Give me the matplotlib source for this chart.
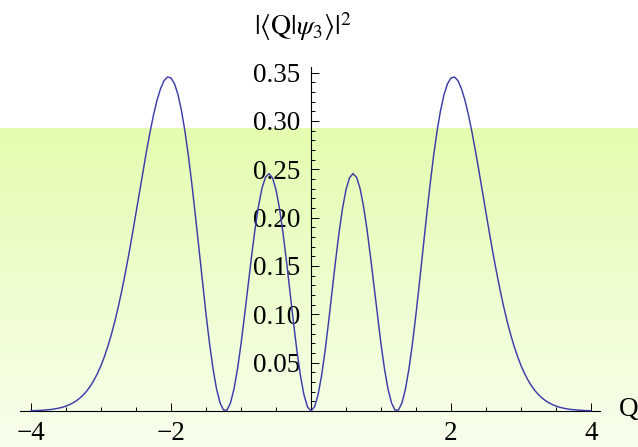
import numpy as np
import matplotlib
matplotlib.use("Agg")
import matplotlib.pyplot as plt

plt.rcParams['font.family'] = ['Liberation Serif', 'DejaVu Serif']
plt.rcParams['mathtext.fontset'] = 'stix'

# |<Q|psi_3>|^2, Q = -4.0 ... 4.0 in steps of 0.05
q = np.linspace(-4.0, 4.0, 161)
prob = [0.0003, 0.0004, 0.0005, 0.0007, 0.0010, 0.0013, 0.0017, 0.0023, 0.0030, 0.0039, 0.0051,
        0.0066, 0.0084, 0.0107, 0.0135, 0.0169, 0.0210, 0.0260, 0.0319, 0.0389,
        0.0470, 0.0565, 0.0673, 0.0796, 0.0933, 0.1087, 0.1255, 0.1437, 0.1631, 0.1836,
        0.2048, 0.2263, 0.2478, 0.2686, 0.2882, 0.3060, 0.3212, 0.3332, 0.3415, 0.3454,
        0.3444, 0.3384, 0.3271, 0.3105, 0.2890, 0.2631, 0.2334, 0.2011, 0.1673, 0.1332,
        0.1004, 0.0701, 0.0439, 0.0230, 0.0085, 0.0010, 0.0009, 0.0084, 0.0228, 0.0435,
        0.0692, 0.0983, 0.1291, 0.1595, 0.1878, 0.2119, 0.2304, 0.2418, 0.2455, 0.2411,
        0.2289, 0.2094, 0.1842, 0.1547, 0.1230, 0.0913, 0.0616, 0.0361, 0.0165, 0.0042,
        0.0,
        0.0042, 0.0165, 0.0361, 0.0616, 0.0913, 0.1230, 0.1547, 0.1842, 0.2094,
        0.2289, 0.2411, 0.2455, 0.2418, 0.2304, 0.2119, 0.1878, 0.1595, 0.1291, 0.0983,
        0.0692, 0.0435, 0.0228, 0.0084, 0.0009, 0.0010, 0.0085, 0.0230, 0.0439, 0.0701,
        0.1004, 0.1332, 0.1673, 0.2011, 0.2334, 0.2631, 0.2890, 0.3105, 0.3271, 0.3384,
        0.3444, 0.3454, 0.3415, 0.3332, 0.3212, 0.3060, 0.2882, 0.2686, 0.2478, 0.2263,
        0.2048, 0.1836, 0.1631, 0.1437, 0.1255, 0.1087, 0.0933, 0.0796, 0.0673, 0.0565,
        0.0470, 0.0389, 0.0319, 0.0260, 0.0210, 0.0169, 0.0135, 0.0107, 0.0084, 0.0066,
        0.0051, 0.0039, 0.0030, 0.0023, 0.0017, 0.0013, 0.0010, 0.0007, 0.0005, 0.0004, 0.0003]

xticks = [-4, -2, 2, 4]
yticks = [0.05, 0.10, 0.15, 0.20, 0.25, 0.30, 0.35]

W, H = 638, 447
fig = plt.figure(figsize=(W / 100, H / 100), dpi=100)

# background: white top, green-yellow gradient band from y=128px down
bg = fig.add_axes([0, 0, 1, 1])
bg.set_xlim(0, W)
bg.set_ylim(H, 0)
top = np.array([228, 252, 176]) / 255
bot = np.array([248, 255, 237]) / 255
t = np.linspace(0, 1, 200)[:, None]
grad = (top[None, :] * (1 - t) + bot[None, :] * t)[:, None, :]
bg.imshow(grad, extent=[0, W, H, 128], aspect='auto', interpolation='bilinear')
bg.axis('off')

ax = fig.add_axes([0, 0, 1, 1])
ax.patch.set_alpha(0)
x0, xs = 311, 70.0
y0, ys = 411, 967.0
ax.set_xlim(-x0 / xs, (W - x0) / xs)
ax.set_ylim((y0 - H) / ys, y0 / ys)

ax.plot(q, prob, color='#3c3ca8', lw=1.05, zorder=3)

for s in ['top', 'right']:
    ax.spines[s].set_visible(False)
ax.spines['left'].set_position(('data', 0))
ax.spines['bottom'].set_position(('data', 0))
ax.spines['left'].set_bounds(0, (y0 - 67) / ys)
ax.spines['bottom'].set_bounds((20 - x0) / xs, (600 - x0) / xs)
for s in ['left', 'bottom']:
    ax.spines[s].set_linewidth(0.8)

ax.set_xticks(xticks)
ax.set_xticklabels([str(v).replace('-', '\u2212') for v in xticks])
ax.set_xticks(np.arange(-4, 4.01, 0.5), minor=True)
ax.set_yticks(yticks)
ax.set_yticklabels(['%.2f' % v for v in yticks])
ax.set_yticks(np.arange(0.01, 0.351, 0.01), minor=True)
ax.tick_params(which='both', direction='in', width=0.7, labelsize=19.5)
ax.tick_params(which='major', length=5.5)
ax.tick_params(which='minor', length=3.2)
ax.tick_params(axis='x', pad=7)
ax.tick_params(axis='y', pad=8)

fig.text(303 / W, 1 - 27 / H, r'$|\langle \mathrm{Q}|\psi_3\rangle|^2$',
         ha='center', va='center', fontsize=20)
fig.text(619 / W, 1 - 410 / H, 'Q', ha='left', va='center', fontsize=19.5)

fig.savefig('out.png', dpi=100)
